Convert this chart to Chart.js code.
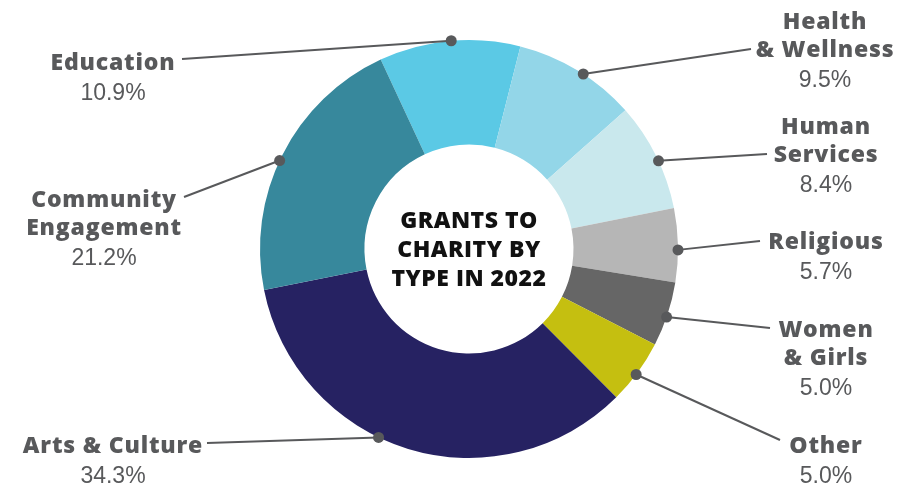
<!DOCTYPE html>
<html>
<head>
<meta charset="utf-8">
<script src="https://cdn.jsdelivr.net/npm/chart.js@4/dist/chart.umd.min.js"></script>
<style>
  html, body { margin: 0; padding: 0; background: #fff; }
  #wrap { width: 914px; height: 485px; }
</style>
</head>
<body>
<div id="wrap"><canvas id="canvas-1"></canvas></div>
<script>
const categories = [['Education'], ['Health', '& Wellness'], ['Human', 'Services'], ['Religious'],
    ['Women', '& Girls'], ['Other'], ['Arts & Culture'], ['Community', 'Engagement']];
const shares = [10.9, 9.5, 8.4, 5.7, 5.0, 5.0, 34.3, 21.2];
const centerTitle = ['GRANTS TO', 'CHARITY BY', 'TYPE IN 2022'];

const colors = ['#5bc9e5', '#93d6e8', '#c9e8ed', '#b6b6b6', '#666666', '#c5bf10', '#262262', '#37889c'];

// label placement: text centre x, first line y, leader end point, nudge of the dot angle (deg)
const labelSpots = [
    { x: 113, y: 63, lx: 182, ly: 59, nudge: 0.5 },
    { x: 825, y: 22, lx: 751, ly: 49, nudge: 1.8 },
    { x: 826, y: 127, lx: 767, ly: 154, nudge: 1.5 },
    { x: 826, y: 242, lx: 760, ly: 241, nudge: 1.3 },
    { x: 826, y: 330, lx: 770, ly: 328, nudge: 0.8 },
    { x: 826, y: 446, lx: 780, ly: 440, nudge: 0.7 },
    { x: 113, y: 446, lx: 207, ly: 443, nudge: 8.7 },
    { x: 104, y: 200, lx: 184, ly: 197, nudge: -1.8 }
];

const boldFont = '800 23px "Open Sans", sans-serif';
const pctFont = '23px "Liberation Sans", Arial, sans-serif';
const grey = '#58595b';

const calloutPlugin = {
    id: 'callouts',
    afterDatasetsDraw(chart) {
        const ctx = chart.ctx;
        const arcs = chart.getDatasetMeta(0).data;
        ctx.save();
        arcs.forEach((arc, i) => {
            const p = arc.getProps(['x', 'y', 'startAngle', 'endAngle', 'outerRadius'], true);
            const spot = labelSpots[i];
            const a = (p.startAngle + p.endAngle) / 2 + spot.nudge * Math.PI / 180;
            const dx = p.x + Math.cos(a) * p.outerRadius;
            const dy = p.y + Math.sin(a) * p.outerRadius;

            ctx.strokeStyle = grey;
            ctx.lineWidth = 2;
            ctx.beginPath();
            ctx.moveTo(dx, dy);
            ctx.lineTo(spot.lx, spot.ly);
            ctx.stroke();

            ctx.fillStyle = grey;
            ctx.beginPath();
            ctx.arc(dx, dy, 5.5, 0, Math.PI * 2);
            ctx.fill();

            ctx.textAlign = 'center';
            ctx.textBaseline = 'middle';
            ctx.font = boldFont;
            ctx.letterSpacing = '0.8px';
            let y = spot.y;
            categories[i].forEach(line => {
                ctx.fillText(line, spot.x, y);
                y += 28;
            });
            ctx.font = pctFont;
            ctx.letterSpacing = '0px';
            ctx.fillText(shares[i].toFixed(1) + '%', spot.x, y + 3);
        });

        const c = arcs[0];
        ctx.fillStyle = '#111111';
        ctx.font = '800 23px "Open Sans", sans-serif';
        ctx.letterSpacing = '0.5px';
        centerTitle.forEach((line, k) => {
            ctx.fillText(line, c.x, c.y - 28 + k * 29);
        });
        ctx.restore();
    }
};

// eslint-disable-next-line no-unused-vars
const doughnut = new Chart(document.getElementById('canvas-1'), {
    type: 'doughnut',
    data: {
        labels: categories.map(c => c.join(' ')),
        datasets: [{
            data: shares,
            backgroundColor: colors,
            borderWidth: 0,
            hoverBorderWidth: 0,
            hoverOffset: 0
        }]
    },
    options: {
        responsive: true,
        maintainAspectRatio: false,
        animation: false,
        rotation: -25,
        cutout: '50%',
        layout: { padding: { left: 260, right: 236, top: 40, bottom: 27 } },
        plugins: {
            legend: { display: false },
            tooltip: { enabled: false }
        }
    },
    plugins: [calloutPlugin]
});
</script>
</body>
</html>
